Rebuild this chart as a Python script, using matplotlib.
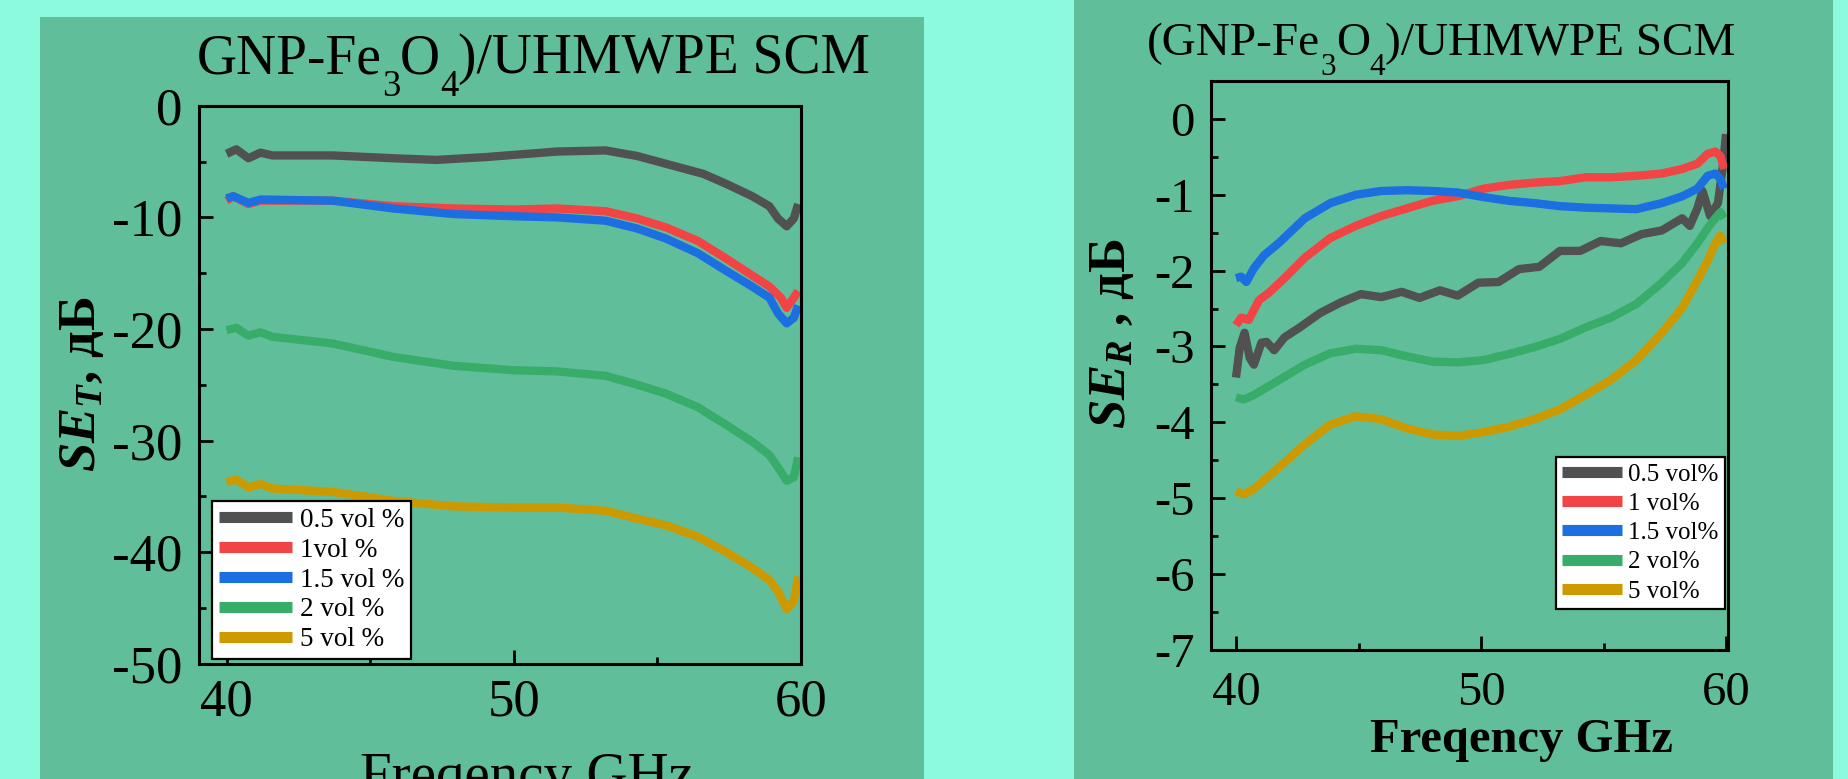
import matplotlib
matplotlib.use("Agg")
import matplotlib.pyplot as plt
from matplotlib.patches import Rectangle
from matplotlib.ticker import MultipleLocator

plt.rcParams['font.family'] = ['Liberation Serif', 'DejaVu Serif']
plt.rcParams['mathtext.fontset'] = 'custom'
plt.rcParams['mathtext.rm'] = 'Liberation Serif'
plt.rcParams['mathtext.it'] = 'Liberation Serif:italic:bold'
plt.rcParams['mathtext.bf'] = 'Liberation Serif:bold'
plt.rcParams['axes.unicode_minus'] = False

# ---------------- data: left panel (SE_T) ----------------
t_labels = ['0.5 vol %', '1vol %', '1.5 vol %', '2 vol %', '5 vol %']
t_x_05 = [40.0, 40.34, 40.76, 41.18, 41.6, 43.7, 45.8, 47.3, 49.0, 50.0, 51.5, 53.2, 54.3, 55.3, 56.6, 57.4, 58.3, 58.9, 59.2, 59.5, 59.75, 59.9]
t_y_05 = [-4.3, -3.9, -4.7, -4.2, -4.45, -4.45, -4.7, -4.85, -4.6, -4.4, -4.1, -4.0, -4.5, -5.2, -6.1, -7.0, -8.1, -9.0, -10.1, -10.8, -10.1, -8.8]
t_x_1 = [40.0, 40.23, 40.76, 41.18, 43.7, 45.8, 47.9, 50.0, 51.5, 53.2, 54.3, 55.3, 56.4, 57.4, 58.3, 58.9, 59.3, 59.5, 59.75, 59.9]
t_y_1 = [-8.5, -8.1, -8.8, -8.5, -8.5, -9.0, -9.2, -9.3, -9.2, -9.45, -10.1, -10.9, -12.1, -13.7, -15.2, -16.2, -17.2, -18.1, -17.2, -16.6]
t_x_15 = [40.0, 40.23, 40.76, 41.18, 43.7, 45.8, 47.9, 50.0, 51.5, 53.2, 54.3, 55.3, 56.4, 57.4, 58.3, 58.9, 59.2, 59.5, 59.75, 59.9]
t_y_15 = [-8.3, -8.1, -8.7, -8.4, -8.5, -9.2, -9.7, -9.9, -10.0, -10.3, -11.0, -11.9, -13.2, -14.8, -16.2, -17.2, -18.6, -19.5, -19.0, -17.9]
t_x_2 = [40.0, 40.34, 40.76, 41.18, 41.6, 43.7, 45.8, 47.9, 50.0, 51.5, 53.2, 54.3, 55.3, 56.4, 57.4, 58.3, 58.9, 59.2, 59.5, 59.75, 59.9]
t_y_2 = [-20.1, -19.9, -20.6, -20.3, -20.7, -21.3, -22.5, -23.3, -23.7, -23.8, -24.2, -25.0, -25.8, -27.0, -28.6, -30.1, -31.3, -32.4, -33.6, -33.3, -31.5]
t_x_5 = [40.0, 40.34, 40.76, 41.18, 41.6, 43.7, 45.8, 47.9, 50.0, 51.5, 53.2, 54.3, 55.3, 56.4, 57.4, 58.3, 58.9, 59.2, 59.5, 59.75, 59.9]
t_y_5 = [-33.7, -33.5, -34.2, -33.9, -34.3, -34.6, -35.4, -35.9, -36.0, -36.0, -36.3, -37.0, -37.6, -38.6, -40.0, -41.4, -42.5, -43.5, -45.1, -44.4, -42.2]

# ---------------- data: right panel (SE_R) ----------------
r_labels = ['0.5 vol%', '1 vol%', '1.5 vol%', '2 vol%', '5 vol%']
r_x_05 = [40.0, 40.15, 40.35, 40.56, 40.73, 41.04, 41.25, 41.56, 41.98, 42.6, 43.43, 44.27, 45.1, 45.93, 46.76, 47.49, 48.32, 49.05, 49.89, 50.72, 51.55, 52.38, 53.22, 54.05, 54.88, 55.71, 56.55, 57.38, 58.21, 58.52, 58.83, 59.04, 59.35, 59.67, 59.88, 60.0]
r_y_05 = [-3.41, -3.02, -2.82, -3.15, -3.24, -2.95, -2.94, -3.05, -2.88, -2.75, -2.56, -2.42, -2.31, -2.35, -2.28, -2.36, -2.26, -2.33, -2.16, -2.15, -1.98, -1.95, -1.74, -1.74, -1.61, -1.64, -1.52, -1.47, -1.31, -1.41, -1.18, -0.95, -1.28, -1.11, -0.59, -0.2]
r_x_1 = [40.0, 40.21, 40.52, 40.94, 41.35, 41.98, 42.81, 43.85, 44.89, 45.93, 46.97, 48.01, 49.05, 50.09, 51.13, 52.17, 53.22, 54.26, 55.3, 56.34, 57.38, 58.21, 58.83, 59.25, 59.56, 59.77, 59.92]
r_y_1 = [-2.72, -2.62, -2.65, -2.39, -2.29, -2.1, -1.83, -1.57, -1.41, -1.28, -1.18, -1.08, -1.02, -0.92, -0.87, -0.84, -0.82, -0.77, -0.77, -0.75, -0.72, -0.66, -0.59, -0.46, -0.43, -0.49, -0.66]
r_x_15 = [40.0, 40.21, 40.42, 40.73, 41.14, 41.77, 42.81, 43.85, 44.89, 45.93, 46.97, 48.01, 49.05, 50.09, 51.13, 52.17, 53.22, 54.26, 55.3, 56.34, 57.38, 58.21, 58.83, 59.25, 59.56, 59.77, 59.92]
r_y_15 = [-2.1, -2.08, -2.15, -1.97, -1.8, -1.63, -1.31, -1.11, -1.0, -0.95, -0.94, -0.95, -0.97, -1.03, -1.08, -1.11, -1.15, -1.17, -1.18, -1.19, -1.11, -1.02, -0.92, -0.75, -0.72, -0.79, -0.92]
r_x_2 = [40.0, 40.31, 40.73, 41.77, 42.81, 43.85, 44.89, 45.93, 46.97, 48.01, 49.05, 50.09, 51.13, 52.17, 53.22, 54.26, 55.3, 56.34, 57.38, 58.21, 58.83, 59.25, 59.56, 59.77, 59.92]
r_y_2 = [-3.67, -3.7, -3.64, -3.44, -3.24, -3.09, -3.03, -3.05, -3.13, -3.2, -3.21, -3.18, -3.1, -3.01, -2.9, -2.75, -2.62, -2.44, -2.16, -1.9, -1.64, -1.44, -1.31, -1.23, -1.31]
r_x_5 = [40.0, 40.31, 40.73, 41.77, 42.81, 43.85, 44.89, 45.93, 46.97, 48.01, 49.05, 50.09, 51.13, 52.17, 53.22, 54.26, 55.3, 56.34, 57.38, 58.21, 58.83, 59.25, 59.56, 59.77, 59.92]
r_y_5 = [-4.91, -4.95, -4.88, -4.59, -4.29, -4.03, -3.92, -3.96, -4.08, -4.16, -4.18, -4.13, -4.06, -3.96, -3.83, -3.64, -3.44, -3.18, -2.82, -2.49, -2.13, -1.87, -1.64, -1.54, -1.64]

colors = ['#515151', '#f24444', '#1c6fe0', '#38ad6a', '#cc9a00']
BG = '#8cfadc'
PANEL = '#60bf9a'

W, H = 1849, 779
fig = plt.figure(figsize=(W / 100, H / 100), dpi=100, facecolor=BG)
renderer = fig.canvas.get_renderer()

def fx(px):
    return px / W

def fy(py):
    return 1 - py / H

fig.patches.append(Rectangle((fx(40), 0), fx(924) - fx(40), fy(17), transform=fig.transFigure, facecolor=PANEL, edgecolor='none', zorder=-5))
fig.patches.append(Rectangle((fx(1074), 0), fx(1833) - fx(1074), 1, transform=fig.transFigure, facecolor=PANEL, edgecolor='none', zorder=-5))

def rich_title(x_px, base_px, parts, size, sub_scale=0.66, sub_drop=0.42):
    """parts: list of (text, is_subscript); placed left to right along a baseline."""
    x = x_px
    for txt, is_sub in parts:
        s = size * sub_scale if is_sub else size
        yb = base_px + (size * 100 / 72 * sub_drop if is_sub else 0)
        t = fig.text(fx(x), fy(yb), txt, fontsize=s, ha='left', va='baseline')
        x += t.get_window_extent(renderer).width

def make_axes(l, t, r, b, lsize):
    ax = fig.add_axes([fx(l), fy(b), fx(r) - fx(l), fy(t) - fy(b)])
    ax.set_facecolor('none')
    for s in ax.spines.values():
        s.set_linewidth(2.2)
    ax.tick_params(which='both', direction='in', width=2.0, labelsize=lsize, colors='black')
    ax.tick_params(which='major', length=10)
    ax.tick_params(which='minor', length=5)
    return ax

def style_legend(leg):
    leg.get_frame().set_linewidth(1.6)
    for h in leg.get_lines():
        h.set_linewidth(8)
        h.set_solid_capstyle('butt')

# ---- left panel ----
axL = make_axes(198.7, 105.8, 801, 663.7, 38)
t_series = [(t_x_05, t_y_05), (t_x_1, t_y_1), (t_x_15, t_y_15), (t_x_2, t_y_2), (t_x_5, t_y_5)]
for (xs, ys), c, lab in zip(t_series, colors, t_labels):
    axL.plot(xs, ys, color=c, lw=6, label=lab, solid_capstyle='butt', solid_joinstyle='round')
axL.set_xlim(39.03, 60)
axL.set_ylim(-50, 0)
axL.set_xticks([40, 50, 60])
axL.xaxis.set_minor_locator(MultipleLocator(5))
axL.set_yticks([0, -10, -20, -30, -40, -50])
axL.yaxis.set_minor_locator(MultipleLocator(5))
axL.tick_params(axis='x', which='both', pad=11)
axL.tick_params(axis='y', which='both', pad=12)
legL = axL.legend(loc='upper left', bbox_to_anchor=(0.022, 0.2916), borderaxespad=0,
                  fontsize=19.5, handlelength=2.7, handletextpad=0.3, labelspacing=0.18,
                  borderpad=0.25, fancybox=False, framealpha=1, edgecolor='black')
style_legend(legL)

rich_title(197, 73, [('GNP-Fe', False), ('3', True), ('O', False), ('4', True), (')/UHMWPE SCM', False)], 40)
fig.text(fx(82), fy(384), r'$SE_T$, дБ', fontsize=38, fontweight='bold', rotation=90, ha='center', va='center')
fig.text(fx(527), fy(752), 'Freqency GHz', fontsize=41, ha='center', va='top')

# ---- right panel ----
axR = make_axes(1211, 81, 1728, 649.8, 35)
r_series = [(r_x_05, r_y_05), (r_x_1, r_y_1), (r_x_15, r_y_15), (r_x_2, r_y_2), (r_x_5, r_y_5)]
for (xs, ys), c, lab in zip(r_series, colors, r_labels):
    axR.plot(xs, ys, color=c, lw=6, label=lab, solid_capstyle='butt', solid_joinstyle='round')
axR.set_xlim(38.98, 60.08)
axR.set_ylim(-7, 0.5)
axR.set_xticks([40, 50, 60])
axR.xaxis.set_minor_locator(MultipleLocator(5))
axR.set_yticks([0, -1, -2, -3, -4, -5, -6, -7])
axR.yaxis.set_minor_locator(MultipleLocator(0.5))
axR.tick_params(axis='x', which='both', pad=15)
axR.tick_params(axis='y', which='both', pad=12)
legR = axR.legend(loc='upper left', bbox_to_anchor=(0.667, 0.339), borderaxespad=0,
                  fontsize=18, handlelength=2.4, handletextpad=0.25, labelspacing=0.27,
                  borderpad=0.25, fancybox=False, framealpha=1, edgecolor='black')
style_legend(legR)

rich_title(1147, 55, [('(GNP-Fe', False), ('3', True), ('O', False), ('4', True), (')/UHMWPE SCM', False)], 34)
fig.text(fx(1112), fy(334), r'$SE_R$ , дБ', fontsize=38, fontweight='bold', rotation=90, ha='center', va='center')
fig.text(fx(1521), fy(740), 'Freqency GHz', fontsize=35, fontweight='bold', ha='center', va='center')

fig.savefig('out.png', dpi=100, facecolor=BG)
